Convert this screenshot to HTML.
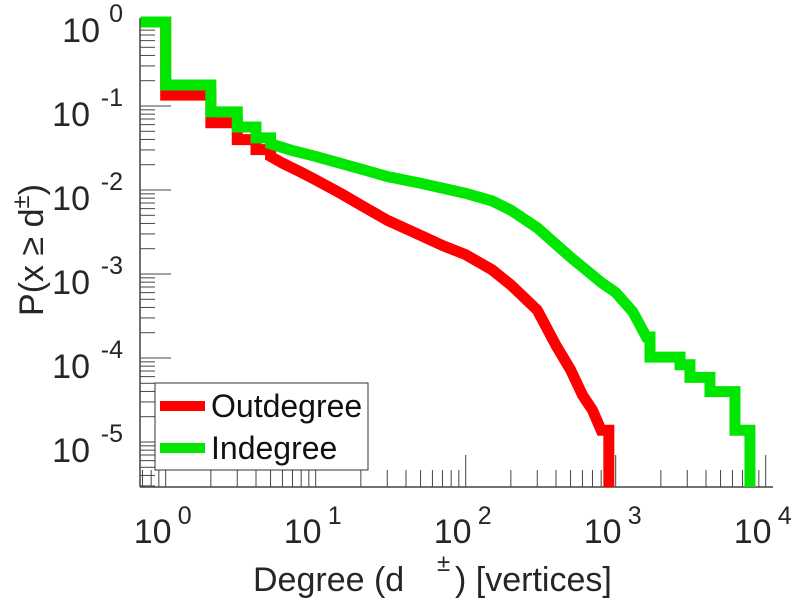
<!DOCTYPE html>
<html><head><meta charset="utf-8">
<style>
body{margin:0;background:#fff;}
svg{display:block;font-family:"Liberation Sans",sans-serif;}
</style></head>
<body>
<svg id="chart" width="797" height="600" viewBox="0 0 797 600">
<g id="axes"></g>
<g id="series"></g>
<text x="253" y="591" font-size="34" fill="#262626">Degree (d<tspan x="437" y="571" font-size="24">±</tspan><tspan x="455" y="591">) [vertices]</tspan></text>
<text transform="translate(43,250) rotate(-90)" font-size="34" fill="#262626" text-anchor="middle">P(x ≥ d<tspan dy="-14" font-size="24">±</tspan><tspan dy="14">)</tspan></text>
<g>
<rect x="155" y="383" width="213" height="87" fill="#fff" stroke="#333" stroke-width="1"/>
<line x1="160" y1="406" x2="205" y2="406" stroke="#ff0000" stroke-width="10"/>
<text x="211" y="417" font-size="32" fill="#111">Outdegree</text>
<line x1="160" y1="448" x2="205" y2="448" stroke="#00e600" stroke-width="10"/>
<text x="211" y="459" font-size="32" fill="#111">Indegree</text>
</g>
</svg>
<script>
const xTickExps = [0,1,2,3,4];
const yTickExps = [0,-1,-2,-3,-4,-5];
const outDeg = [0.68,1,2,3,4,5,6,8,10,15,20,30,50,70,100,150,200,300,400,500,600,700,800,900];
const outLogP = [0,-0.87,-1.2,-1.4,-1.52,-1.6,-1.68,-1.79,-1.88,-2.05,-2.18,-2.36,-2.54,-2.66,-2.77,-2.95,-3.13,-3.43,-3.85,-4.14,-4.44,-4.62,-4.86,-5.6];
const inDeg = [0.68,1,2,3,4,5,7,10,20,30,50,100,150,200,300,500,800,1000,1300,1600,1693,2685,3126,4250,6240,7850];
const inLogP = [0,-0.75,-1.07,-1.25,-1.38,-1.45,-1.53,-1.6,-1.75,-1.84,-1.92,-2.04,-2.13,-2.24,-2.45,-2.8,-3.1,-3.22,-3.45,-3.75,-3.99,-4.08,-4.23,-4.40,-4.86,-5.6];

const NS='http://www.w3.org/2000/svg';
const X0=140, X1=773, Y0=18, Y1=487;
const xs = d => 165.7 + 150*Math.log10(d);
const ys = lp => 22 - 84*lp;
function mk(tag, attrs, parent){const e=document.createElementNS(NS,tag);for(const k in attrs)e.setAttribute(k,attrs[k]);parent.appendChild(e);return e;}
const axes=document.getElementById('axes');
const ser=document.getElementById('series');

let el=mk('line',{x1:X0,y1:Y1,x2:X1,y2:Y1,stroke:'#444','stroke-width':1.5},axes);


el=mk('line',{x1:X0,y1:Y0,x2:X0,y2:Y1,stroke:'#444','stroke-width':1.5},axes);



for(let e=-1;e<=4;e++){
  for(let m=1;m<10;m++){
    const v=m*Math.pow(10,e); const x=xs(v);
    if(x<X0||x>X1) continue;
    const len=m===1?32:17;
    el=mk('line',{x1:x,y1:Y1,x2:x,y2:Y1-len,stroke:'#444','stroke-width':1},axes);
    
    
  }
}
xTickExps.forEach(e=>{
  const x=xs(Math.pow(10,e));
  const t=mk('text',{x:x-32,y:543,'font-size':34,fill:'#262626'},axes);
  t.textContent='10';
  
  
  const s=mk('text',{x:x+12,y:524,'font-size':25,fill:'#262626'},axes);
  s.textContent=String(e);
  
  
});
for(let e=-6;e<=0;e++){
  for(let m=1;m<10;m++){
    const lp=Math.log10(m)+e; const y=ys(lp);
    if(y<Y0||y>Y1) continue;
    const len=m===1?31:15;
    el=mk('line',{x1:X0,y1:y,x2:X0+len,y2:y,stroke:'#444','stroke-width':1},axes);
    
    
  }
}
yTickExps.forEach(e=>{
  const y=ys(e);
  const s=mk('text',{x:123,y:y,'font-size':25,fill:'#262626','text-anchor':'end'},axes);
  s.textContent=String(e);
  
  
  const endX = e<0 ? 90 : 100;
  const t=mk('text',{x:endX,y:y+20,'font-size':34,fill:'#262626','text-anchor':'end'},axes);
  t.textContent='10';
  
  
});

function drawSeries(deg, lp, color, name, smoothLo, smoothHi){
  let pts=[];
  for(let i=0;i<deg.length;i++){
    let x=Math.max(X0,xs(deg[i])); let y=Math.min(Y1,ys(lp[i]));
    if(i>0){
      const prevY=pts[pts.length-1][1];
      const smooth = deg[i-1]>=smoothLo && deg[i]<=smoothHi;
      if(!smooth) pts.push([x,prevY]);
    }
    pts.push([x,y]);
  }
  const last=pts[pts.length-1]; pts.push([last[0],Y1]);
  const p=mk('polyline',{points:pts.map(q=>q.join(',')).join(' '),fill:'none',stroke:color,'stroke-width':11,'stroke-linejoin':'miter','stroke-linecap':'butt'},ser);
  
  
}
drawSeries(outDeg,outLogP,'#ff0000','outdegree-line',5,800);
drawSeries(inDeg,inLogP,'#00e600','indegree-line',5,1600);
</script>
</body></html>
